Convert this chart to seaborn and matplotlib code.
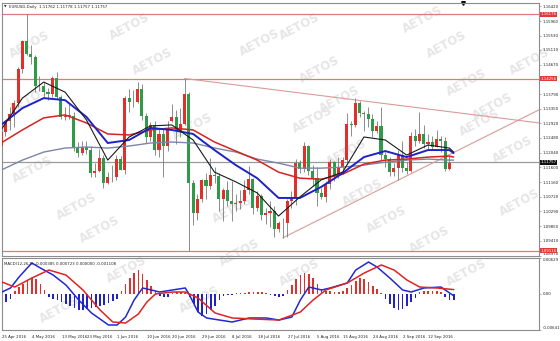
import matplotlib
matplotlib.use("Agg")
import matplotlib.pyplot as plt
import seaborn as sns
import numpy as np
import pandas as pd
from matplotlib.transforms import blended_transform_factory as btf

# ---------------- data ----------------
date_labels = ["25 Apr 2016", "4 May 2016", "13 May 2016", "23 May 2016", "1 Jun 2016",
               "10 Jun 2016", "20 Jun 2016", "29 Jun 2016", "8 Jul 2016", "18 Jul 2016",
               "27 Jul 2016", "5 Aug 2016", "15 Aug 2016", "24 Aug 2016", "2 Sep 2016",
               "12 Sep 2016"]
date_label_bars = [0, 7, 14, 20, 27, 34, 40, 47, 54, 60, 67, 74, 80, 87, 94, 100]

opens = [1.1225, 1.1265, 1.1298, 1.1320, 1.1352, 1.1454, 1.1537, 1.1500, 1.1490, 1.1404,
         1.1402, 1.1385, 1.1378, 1.1427, 1.1370, 1.1310, 1.1315, 1.1314, 1.1218, 1.1203,
         1.1222, 1.1213, 1.1142, 1.1150, 1.1189, 1.1113, 1.1133, 1.1131, 1.1186, 1.1152,
         1.1367, 1.1354, 1.1355, 1.1395, 1.1314, 1.1252, 1.1288, 1.1212, 1.1260, 1.1225,
         1.1300, 1.1312, 1.1270, 1.1290, 1.1378, 1.1115, 1.1025, 1.1066, 1.1122, 1.1105,
         1.1137, 1.1136, 1.1066, 1.1094, 1.1060, 1.1050, 1.1054, 1.1060, 1.1092, 1.1125,
         1.1040, 1.1075, 1.1018, 1.1025, 1.1030, 1.0975, 1.0994, 1.0995, 1.1060, 1.1072,
         1.1174, 1.1155, 1.1224, 1.1150, 1.1130, 1.1085, 1.1073, 1.1111, 1.1175, 1.1135,
         1.1160, 1.1182, 1.1290, 1.1287, 1.1353, 1.1323, 1.1320, 1.1305, 1.1268, 1.1285,
         1.1198, 1.1185, 1.1146, 1.1157, 1.1196, 1.1157, 1.1150, 1.1255, 1.1240, 1.1260,
         1.1230, 1.1235, 1.1222, 1.1245, 1.1238, 1.1155, 1.11762]
highs = [1.1268, 1.1300, 1.1341, 1.1362, 1.1461, 1.1540, 1.16176, 1.1526, 1.1496, 1.1434,
         1.1414, 1.1398, 1.1432, 1.1445, 1.1377, 1.1340, 1.1350, 1.1325, 1.1235, 1.1238,
         1.1240, 1.1224, 1.1172, 1.1216, 1.1197, 1.1146, 1.1168, 1.1196, 1.1195, 1.1373,
         1.1394, 1.1392, 1.1416, 1.1410, 1.1323, 1.1296, 1.1299, 1.1279, 1.1276, 1.1298,
         1.1348, 1.1332, 1.1337, 1.14256, 1.1385, 1.1123, 1.1081, 1.1125, 1.1142, 1.1187,
         1.1162, 1.1142, 1.1098, 1.1120, 1.1120, 1.1080, 1.1093, 1.1122, 1.1165, 1.1130,
         1.1090, 1.1080, 1.1040, 1.1060, 1.1045, 1.1000, 1.1010, 1.1066, 1.1090, 1.1186,
         1.1183, 1.1235, 1.1228, 1.1168, 1.1162, 1.1098, 1.1121, 1.1185, 1.1180, 1.1190,
         1.1190, 1.1323, 1.1300, 1.1366, 1.1359, 1.1330, 1.1342, 1.1320, 1.1300, 1.1342,
         1.1205, 1.1190, 1.1173, 1.1213, 1.1240, 1.1175, 1.1265, 1.1275, 1.1327, 1.1286,
         1.1259, 1.1253, 1.1271, 1.1255, 1.1250, 1.1195, 1.11778]
lows = [1.1215, 1.1255, 1.1273, 1.1280, 1.1340, 1.1442, 1.1496, 1.1470, 1.1385, 1.1388,
        1.1370, 1.1361, 1.1370, 1.1365, 1.1305, 1.1302, 1.1304, 1.1210, 1.1190, 1.1196,
        1.1200, 1.1131, 1.1132, 1.1145, 1.1098, 1.1110, 1.1118, 1.1123, 1.1151, 1.1140,
        1.1327, 1.1340, 1.1352, 1.1302, 1.1234, 1.1238, 1.1196, 1.1190, 1.1131, 1.1209,
        1.1295, 1.1230, 1.1252, 1.1288, 1.09116, 1.0987, 1.1004, 1.1057, 1.1066, 1.1096,
        1.1114, 1.1029, 1.1000, 1.1046, 1.0999, 1.1030, 1.1035, 1.1050, 1.1080, 1.1020,
        1.1030, 1.1002, 1.0990, 1.0982, 1.0952, 1.0966, 1.0950, 1.0953, 1.1040, 1.1047,
        1.1143, 1.1146, 1.1137, 1.1105, 1.1045, 1.1066, 1.1057, 1.1095, 1.1121, 1.1130,
        1.1140, 1.1170, 1.1253, 1.1282, 1.1310, 1.1270, 1.1280, 1.1252, 1.1262, 1.1182,
        1.1160, 1.1136, 1.1134, 1.1124, 1.1145, 1.1140, 1.1145, 1.1225, 1.1234, 1.1218,
        1.1215, 1.1214, 1.1220, 1.1205, 1.1150, 1.1151, 1.11757]
closes = [1.1265, 1.1298, 1.1320, 1.1352, 1.1454, 1.1537, 1.1500, 1.1490, 1.1404, 1.1402,
          1.1385, 1.1378, 1.1427, 1.1370, 1.1310, 1.1315, 1.1314, 1.1218, 1.1203, 1.1222,
          1.1213, 1.1142, 1.1150, 1.1189, 1.1113, 1.1133, 1.1131, 1.1186, 1.1152, 1.1367,
          1.1354, 1.1355, 1.1395, 1.1314, 1.1252, 1.1288, 1.1212, 1.1260, 1.1225, 1.1277,
          1.1312, 1.1270, 1.1290, 1.1378, 1.1115, 1.1025, 1.1066, 1.1122, 1.1105, 1.1137,
          1.1136, 1.1066, 1.1094, 1.1060, 1.1050, 1.1054, 1.1060, 1.1092, 1.1125, 1.1040,
          1.1075, 1.1018, 1.1025, 1.1030, 1.0975, 1.0994, 1.0995, 1.1060, 1.1072, 1.1174,
          1.1155, 1.1224, 1.1150, 1.1130, 1.1085, 1.1073, 1.1111, 1.1175, 1.1135, 1.1160,
          1.1182, 1.1290, 1.1287, 1.1353, 1.1323, 1.1320, 1.1305, 1.1268, 1.1285, 1.1198,
          1.1185, 1.1146, 1.1157, 1.1196, 1.1157, 1.1150, 1.1255, 1.1240, 1.1260, 1.1230,
          1.1235, 1.1222, 1.1245, 1.1238, 1.1155, 1.1172, 1.11757]

ma_idx = [0, 5, 10, 15, 20, 25, 30, 35, 40, 45, 50, 55, 60, 65, 70, 75, 80, 85, 90, 95, 100, 105, 106]
ma_black = [1.1272, 1.1367, 1.1415, 1.1385, 1.1302, 1.1182, 1.1251, 1.1284, 1.1287, 1.1242,
            1.1146, 1.1117, 1.1084, 1.1015, 1.1072, 1.1123, 1.1146, 1.1251, 1.1242, 1.1197,
            1.1227, 1.1218, 1.1206]
ma_blue = [1.1287, 1.1337, 1.1367, 1.1361, 1.1311, 1.1233, 1.1242, 1.1278, 1.1272, 1.1260,
           1.1212, 1.1167, 1.1128, 1.1069, 1.1069, 1.1102, 1.1143, 1.1191, 1.1209, 1.1191,
           1.1212, 1.1212, 1.1203]
ma_red = [1.1233, 1.1272, 1.1308, 1.1317, 1.1293, 1.1260, 1.1257, 1.1272, 1.1278, 1.1272,
          1.1236, 1.1209, 1.1182, 1.1146, 1.1128, 1.1125, 1.1140, 1.1170, 1.1182, 1.1185,
          1.1191, 1.1194, 1.1191]
ma_gray = [1.1152, 1.1182, 1.1206, 1.1218, 1.1221, 1.1218, 1.1224, 1.1233, 1.1236, 1.1233,
           1.1218, 1.1206, 1.1185, 1.1173, 1.1158, 1.1158, 1.1161, 1.1167, 1.1176, 1.1182,
           1.1185, 1.1182, 1.1182]

level_lines = [1.16176, 1.14256, 1.09116]
level_labels = ["1.16176", "1.14256", "1.09116"]
last_price = 1.11757
upper_x = [43, 126]
upper_y = [1.14256, 1.1293]
lower_x = [66, 126]
lower_y = [1.0950, 1.1332]

price_ticks = [1.16420, 1.15960, 1.15530, 1.15110, 1.14670, 1.13790, 1.13350, 1.12920,
               1.12480, 1.12040, 1.11600, 1.11160, 1.10720, 1.10290, 1.09850, 1.09410, 1.08970]

macd_idx = [0, 2, 4, 7, 9, 12, 15, 18, 21, 25, 27, 29, 31, 33, 35, 37, 40, 43, 44, 46, 48,
            51, 54, 58, 62, 65, 68, 70, 72, 75, 77, 81, 83, 86, 88, 91, 94, 96, 99, 103, 104, 106]
macd_vals = [0.00029, 0.00100, 0.00294, 0.00541, 0.00453, 0.00329, 0.00153, -0.00112,
             -0.00341, -0.00553, -0.00553, -0.00412, -0.00112, 0.00100, 0.00065, 0.00029,
             0.00065, 0.00100, -0.00024, -0.00324, -0.00429, -0.00465, -0.00500, -0.00429,
             -0.00429, -0.00465, -0.00412, -0.00112, 0.00117, 0.00065, 0.00100, 0.00188,
             0.00417, 0.00558, 0.00470, 0.00276, 0.00065, 0.00029, 0.00100, 0.00117, 0.00065,
             -0.00039]
sig_idx = [0, 3, 7, 11, 15, 19, 23, 26, 29, 32, 34, 36, 40, 43, 46, 50, 54, 59, 65, 70, 73,
           76, 81, 85, 89, 92, 95, 98, 102, 106]
sig_vals = [0.00206, 0.00117, 0.00276, 0.00417, 0.00329, 0.00065, -0.00288, -0.00500,
            -0.00518, -0.00359, -0.00147, -0.00006, 0.00029, 0.00029, -0.00077, -0.00341,
            -0.00429, -0.00447, -0.00465, -0.00324, -0.00112, 0.00065, 0.00188, 0.00364,
            0.00506, 0.00417, 0.00241, 0.00117, 0.00100, 0.00072]
hist = [-0.00176, -0.00141, -0.00088, 0.00053, 0.00123, 0.00176, 0.00229, 0.00282, 0.00264, 0.00176,
        0.00070, -0.00053, -0.00088, -0.00106, -0.00141, -0.00176, -0.00212, -0.00247, -0.00282, -0.00282,
        -0.00264, -0.00247, -0.00229, -0.00212, -0.00194, -0.00159, -0.00123, -0.00088, 0.00053, 0.00176,
        0.00282, 0.00370, 0.00423, 0.00353, 0.00247, 0.00141, 0.00053, -0.00035, -0.00053, -0.00053,
        0.00018, 0.00035, 0.00035, 0.00018, -0.00053, -0.00176, -0.00317, -0.00388, -0.00353, -0.00282,
        -0.00212, -0.00106, -0.00035, -0.00018, -0.00018, 0.00005, 0.00005, 0.00018, 0.00035, 0.00035,
        0.00035, 0.00035, 0.00018, -0.00018, -0.00035, -0.00053, -0.00035, 0.00070, 0.00159, 0.00264,
        0.00335, 0.00370, 0.00353, 0.00282, 0.00176, 0.00088, 0.00053, 0.00053, 0.00035, 0.00035,
        0.00053, 0.00106, 0.00159, 0.00229, 0.00282, 0.00264, 0.00212, 0.00141, 0.00088, 0.00018,
        -0.00088, -0.00176, -0.00247, -0.00282, -0.00264, -0.00212, -0.00141, -0.00070, 0.00035, 0.00053,
        0.00053, 0.00053, 0.00053, 0.00035, -0.00053, -0.00106, -0.00111]
macd_ticks = [0.00629, 0.0, -0.00641]
macd_tick_labels = ["0.00629", "0.00", "-0.00641"]

header = "EURUSD,Daily  1.11762 1.11778 1.11757 1.11757"
macd_header = "MACD(12,26,9) -0.000385 0.000723 0.000000 -0.001108"

# ---------------- style ----------------
sns.set_theme(style="white")
plt.rcParams["font.family"] = ["DejaVu Sans"]

UP, DOWN, WICK = "#e0302c", "#2f9a47", "#7a7a7a"
FRAME = "#8c8c8c"
FS = 2.75

W, H = 560, 341
fig = plt.figure(figsize=(W / 100, H / 100), dpi=100)
fig.patch.set_facecolor("white")
ax = fig.add_axes([2 / W, 1 - 256 / H, 537 / W, 253 / H])
ax2 = fig.add_axes([2 / W, 1 - 330 / H, 537 / W, 72 / H])
for a in (ax, ax2):
    a.patch.set_alpha(0)
    for s in a.spines.values():
        s.set_color(FRAME)
        s.set_linewidth(0.8)
    a.set_xlim(0.23, 126.0)

# watermark
wm = [(130, 27), (153, 62), (300, 27), (320, 70), (423, 20), (447, 45), (467, 83), (493, 107),
      (340, 100), (530, 62), (313, 120), (347, 153), (480, 123), (513, 150), (193, 127), (33, 170),
      (77, 207), (233, 210), (363, 193), (387, 220), (520, 203), (100, 230), (127, 270), (240, 253),
      (300, 273), (430, 240), (467, 273), (60, 310), (30, 45), (260, 43), (200, 300), (30, 100)]
for (px, py) in wm:
    fig.text(px / W, 1 - py / H, "AETOS", rotation=28, fontsize=8.5, fontweight="bold",
             color="#e6e6e6", ha="center", va="center", zorder=-5)

# ---------------- main panel ----------------
n = len(opens)
idx = np.arange(n)
o = np.array(opens); c = np.array(closes); h = np.array(highs); l = np.array(lows)
up = c >= o
ax.vlines(idx, l, h, color=WICK, lw=0.6, zorder=2)
body_bottom = np.minimum(o, c)
body_h = np.maximum(np.abs(c - o), 0.00012)
ax.bar(idx[up], body_h[up], bottom=body_bottom[up], width=0.72, color=UP, lw=0, zorder=3)
ax.bar(idx[~up], body_h[~up], bottom=body_bottom[~up], width=0.72, color=DOWN, lw=0, zorder=3)

ma_df = pd.DataFrame({"bar": ma_idx, "black": ma_black, "blue": ma_blue,
                      "red": ma_red, "gray": ma_gray})
sns.lineplot(data=ma_df, x="bar", y="gray", ax=ax, color="#7b86a6", lw=1.0, zorder=4)
sns.lineplot(data=ma_df, x="bar", y="red", ax=ax, color="#d42323", lw=1.1, zorder=4)
sns.lineplot(data=ma_df, x="bar", y="blue", ax=ax, color="#1e22c8", lw=1.4, zorder=5)
sns.lineplot(data=ma_df, x="bar", y="black", ax=ax, color="#1a1a1a", lw=0.8, zorder=6)

for lv in level_lines:
    ax.axhline(lv, color="#e07a7a", lw=0.9, zorder=1)
ax.axhline(last_price, color="#9a9a9a", lw=0.9, zorder=1)
ax.plot(upper_x, upper_y, color="#dc9a9a", lw=0.8, zorder=1)
ax.plot(lower_x, lower_y, color="#dc9a9a", lw=0.8, zorder=1)

ax.set_ylim(1.08957, 1.16510)
ax.yaxis.tick_right()
ax.set_yticks(price_ticks)
ax.set_yticklabels([f"{t:.5f}" for t in price_ticks])
ax.tick_params(axis="y", labelsize=FS, length=1.5, width=0.5, color=FRAME, pad=1, labelcolor="#222222")
ax.get_yticklabels()[-1].set_va("bottom")
ax.set_xticks([])
ax.set_xlabel(""); ax.set_ylabel("")

tr = btf(ax.transAxes, ax.transData)
for lv, lab in zip(level_lines, level_labels):
    ax.text(1.003, lv, lab, transform=tr, fontsize=FS, color="white", va="center", ha="left",
            bbox=dict(boxstyle="square,pad=0.15", fc="#e03a3a", ec="none"), zorder=10, clip_on=False)
ax.text(1.003, last_price, f"{last_price:.5f}", transform=tr, fontsize=FS, color="white",
        va="center", ha="left", bbox=dict(boxstyle="square,pad=0.15", fc="#111111", ec="none"),
        zorder=10, clip_on=False)

ax.text(0.004, 0.992, "\u25bc", transform=ax.transAxes, fontsize=2.4, va="top", ha="left", color="#222222")
ax.text(0.013, 0.992, header, transform=ax.transAxes, fontsize=FS, va="top", ha="left", color="#222222")
ax.plot([0.858], [1.0], marker="v", color="black", ms=2.6, transform=ax.transAxes, clip_on=False)

# ---------------- MACD panel ----------------
hv = np.array(hist)
hidx = np.arange(len(hv))
ax2.bar(hidx[hv >= 0], hv[hv >= 0], width=0.38, color="#e0302c", lw=0, zorder=2)
ax2.bar(hidx[hv < 0], hv[hv < 0], width=0.38, color="#1e22c8", lw=0, zorder=2)
mdf = pd.DataFrame({"bar": macd_idx, "macd": macd_vals})
sdf = pd.DataFrame({"bar": sig_idx, "signal": sig_vals})
sns.lineplot(data=mdf, x="bar", y="macd", ax=ax2, color="#2229d0", lw=1.1, zorder=3)
sns.lineplot(data=sdf, x="bar", y="signal", ax=ax2, color="#e02424", lw=1.1, zorder=4)
ax2.set_ylim(-0.00641, 0.00629)
ax2.yaxis.tick_right()
ax2.set_yticks(macd_ticks)
ax2.set_yticklabels(macd_tick_labels)
ax2.tick_params(axis="y", labelsize=FS, length=1.5, width=0.5, color=FRAME, pad=1, labelcolor="#222222")
ylabs = ax2.get_yticklabels()
ylabs[0].set_va("top")
ylabs[-1].set_va("bottom")
ax2.set_xticks(date_label_bars)
ax2.set_xticklabels(date_labels, ha="left")
ax2.tick_params(axis="x", labelsize=FS, length=2, width=0.5, color=FRAME, pad=1.5, labelcolor="#222222")
ax2.set_xlabel(""); ax2.set_ylabel("")
ax2.text(0.004, 0.95, macd_header, transform=ax2.transAxes, fontsize=FS, va="top", ha="left", color="#222222")

fig.savefig("out.png", dpi=100)
